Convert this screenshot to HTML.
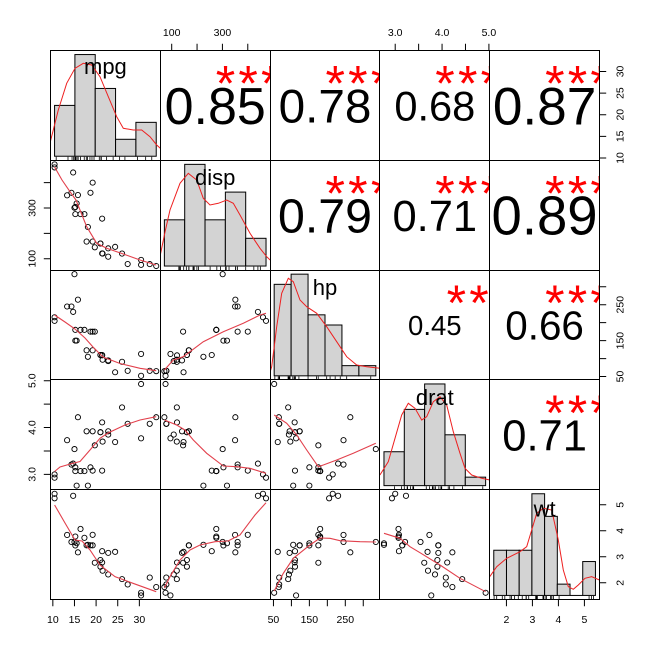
<!DOCTYPE html>
<html><head><meta charset="utf-8"><style>
html,body{margin:0;padding:0;background:#fff;}
svg{display:block;font-family:"Liberation Sans",Arial,sans-serif;}
.pt circle{fill:none;stroke:#000;stroke-width:0.9;}
.lo{fill:none;stroke:#E2404C;stroke-width:1.1;}
.dn{fill:none;stroke:#EE2020;stroke-width:1;}
.bar{fill:#D3D3D3;stroke:#000;stroke-width:1;}
.rug{stroke:#000;stroke-width:0.8;fill:none;}
.tk{stroke:#000;stroke-width:1;fill:none;}
.ax{font-size:10.5px;fill:#000;}
.st{font-size:50px;fill:#FF0000;letter-spacing:3.2px;}
.lb{font-size:22px;fill:#000;}
</style></head><body>
<svg width="650" height="650" viewBox="0 0 650 650" xmlns="http://www.w3.org/2000/svg">
<defs>
<clipPath id="c11"><rect x="50.5" y="50.5" width="109.8" height="109.8"/></clipPath>
<clipPath id="c22"><rect x="160.3" y="160.3" width="109.8" height="109.8"/></clipPath>
<clipPath id="c33"><rect x="270.1" y="270.1" width="109.8" height="109.8"/></clipPath>
<clipPath id="c44"><rect x="379.9" y="379.9" width="109.8" height="109.8"/></clipPath>
<clipPath id="c55"><rect x="489.7" y="489.7" width="109.8" height="109.8"/></clipPath>
<clipPath id="c12"><rect x="160.3" y="50.5" width="109.8" height="109.8"/></clipPath>
<clipPath id="c13"><rect x="270.1" y="50.5" width="109.8" height="109.8"/></clipPath>
<clipPath id="c14"><rect x="379.9" y="50.5" width="109.8" height="109.8"/></clipPath>
<clipPath id="c15"><rect x="489.7" y="50.5" width="109.8" height="109.8"/></clipPath>
<clipPath id="c23"><rect x="270.1" y="160.3" width="109.8" height="109.8"/></clipPath>
<clipPath id="c24"><rect x="379.9" y="160.3" width="109.8" height="109.8"/></clipPath>
<clipPath id="c25"><rect x="489.7" y="160.3" width="109.8" height="109.8"/></clipPath>
<clipPath id="c34"><rect x="379.9" y="270.1" width="109.8" height="109.8"/></clipPath>
<clipPath id="c35"><rect x="489.7" y="270.1" width="109.8" height="109.8"/></clipPath>
<clipPath id="c45"><rect x="489.7" y="379.9" width="109.8" height="109.8"/></clipPath>
</defs>
<rect x="0" y="0" width="650" height="650" fill="#fff"/>

<!-- Histograms -->
<g class="bar">
<rect x="54.57" y="105.40" width="20.33" height="50.83"/>
<rect x="74.90" y="54.56" width="20.33" height="101.67"/>
<rect x="95.23" y="88.45" width="20.33" height="67.78"/>
<rect x="115.57" y="139.29" width="20.33" height="16.94"/>
<rect x="135.90" y="122.34" width="20.33" height="33.89"/>

<rect x="164.37" y="219.82" width="20.33" height="46.21"/>
<rect x="184.70" y="164.36" width="20.33" height="101.67"/>
<rect x="205.03" y="219.82" width="20.33" height="46.21"/>
<rect x="225.37" y="192.09" width="20.33" height="73.94"/>
<rect x="245.70" y="238.30" width="20.33" height="27.73"/>

<rect x="274.17" y="284.33" width="16.94" height="91.50"/>
<rect x="291.11" y="274.16" width="16.94" height="101.67"/>
<rect x="308.06" y="314.83" width="16.94" height="61.00"/>
<rect x="325.00" y="325.00" width="16.94" height="50.83"/>
<rect x="341.94" y="365.66" width="16.94" height="10.17"/>
<rect x="358.89" y="365.66" width="16.94" height="10.17"/>

<rect x="383.97" y="451.74" width="20.33" height="33.89"/>
<rect x="404.30" y="409.38" width="20.33" height="76.25"/>
<rect x="424.63" y="383.96" width="20.33" height="101.67"/>
<rect x="444.97" y="434.80" width="20.33" height="50.83"/>
<rect x="465.30" y="477.16" width="20.33" height="8.47"/>

<rect x="493.77" y="550.24" width="12.71" height="45.19"/>
<rect x="506.48" y="550.24" width="12.71" height="45.19"/>
<rect x="519.19" y="550.24" width="12.71" height="45.19"/>
<rect x="531.90" y="493.76" width="12.71" height="101.67"/>
<rect x="544.61" y="516.35" width="12.71" height="79.08"/>
<rect x="557.31" y="584.13" width="12.71" height="11.30"/>
<rect x="582.73" y="561.54" width="12.71" height="33.89"/>
</g>
<line x1="570.02" y1="595.43" x2="582.73" y2="595.43" stroke="#000" stroke-width="1"/>

<!-- Density curves -->
<path class="dn" clip-path="url(#c11)" d="M50.5,141 L58.3,110 L66.7,83.3 L75,68.3 L83.3,63.3 L91.7,65 L100,76.7 L108.3,96.7 L116.7,116.7 L123.3,128.3 L133.3,130 L141.7,130 L150,136.7 L156.7,145 L160.3,148.3"/>
<path class="dn" clip-path="url(#c22)" d="M160.3,255 L165,232 L170,210 L180,183.3 L188.3,173.3 L196.7,180 L203.3,198.3 L210,205 L218.3,203.3 L226.7,200 L233.3,203.3 L240,215 L250,233.3 L260,248.3 L266.7,256.7 L270.1,260"/>
<path class="dn" clip-path="url(#c33)" d="M270.1,372 L271.7,366.7 L276.7,326.7 L281.7,293.3 L288.3,278.3 L293.3,281.7 L300,300 L306.7,306.7 L316.7,313.3 L326.7,326.7 L336.7,341.7 L346.7,356.7 L356.7,365 L366.7,366.7 L379.9,368.3"/>
<path class="dn" clip-path="url(#c44)" d="M379.9,475 L388.3,461.7 L395,438.3 L401.7,415 L408.3,403.3 L415,408.3 L421.7,420 L426.7,416.7 L433.3,401.7 L440,396.7 L446.7,405 L453.3,431.7 L460,453.3 L465,468.3 L471.7,475 L481.7,478.3 L489.7,480"/>
<path class="dn" clip-path="url(#c55)" d="M489.7,576.7 L496.7,566.7 L506.7,558.3 L520,551.7 L526.7,546.7 L531.7,530 L536.7,513.3 L543.3,508.3 L551.7,510 L558.3,540 L563.3,570 L568.3,586.7 L573.3,589.3 L578.3,585 L585,578.3 L591.7,576.7 L599.5,580"/>

<!-- Rugs -->
<path class="rug" d="M56.19,160.3v-3.5M67.99,160.3v-3.5M72.05,160.3v-3.5M73.68,160.3v-3.5M74.90,160.3v-3.5M75.71,160.3v-3.5M76.93,160.3v-3.5M78.15,160.3v-3.5M80.59,160.3v-3.5M84.25,160.3v-3.5M86.29,160.3v-3.5M87.51,160.3v-3.5M89.95,160.3v-3.5M91.98,160.3v-3.5M94.01,160.3v-3.5M99.30,160.3v-3.5M100.93,160.3v-3.5M101.33,160.3v-3.5M106.62,160.3v-3.5M113.13,160.3v-3.5M119.63,160.3v-3.5M124.92,160.3v-3.5M137.53,160.3v-3.5M145.66,160.3v-3.5M151.76,160.3v-3.5"/>
<path class="rug" d="M178.82,270.1v-3.5M179.76,270.1v-3.5M180.37,270.1v-3.5M180.43,270.1v-3.5M183.70,270.1v-3.5M186.33,270.1v-3.5M188.79,270.1v-3.5M188.97,270.1v-3.5M193.00,270.1v-3.5M193.85,270.1v-3.5M194.20,270.1v-3.5M196.90,270.1v-3.5M198.44,270.1v-3.5M210.12,270.1v-3.5M216.83,270.1v-3.5M220.45,270.1v-3.5M225.57,270.1v-3.5M226.18,270.1v-3.5M229.03,270.1v-3.5M235.53,270.1v-3.5M235.74,270.1v-3.5M237.57,270.1v-3.5M245.70,270.1v-3.5M253.83,270.1v-3.5M257.90,270.1v-3.5M260.34,270.1v-3.5"/>
<path class="rug" d="M274.84,379.9v-3.5M278.23,379.9v-3.5M279.25,379.9v-3.5M279.59,379.9v-3.5M288.06,379.9v-3.5M288.74,379.9v-3.5M289.42,379.9v-3.5M290.09,379.9v-3.5M292.81,379.9v-3.5M294.16,379.9v-3.5M294.50,379.9v-3.5M295.52,379.9v-3.5M298.91,379.9v-3.5M308.06,379.9v-3.5M316.53,379.9v-3.5M318.22,379.9v-3.5M326.69,379.9v-3.5M330.08,379.9v-3.5M335.17,379.9v-3.5M340.25,379.9v-3.5M346.69,379.9v-3.5M370.75,379.9v-3.5"/>
<path class="rug" d="M394.54,489.7v-3.5M401.45,489.7v-3.5M404.30,489.7v-3.5M407.15,489.7v-3.5M407.55,489.7v-3.5M410.40,489.7v-3.5M412.84,489.7v-3.5M413.65,489.7v-3.5M426.26,489.7v-3.5M429.51,489.7v-3.5M432.36,489.7v-3.5M432.77,489.7v-3.5M433.99,489.7v-3.5M435.61,489.7v-3.5M438.87,489.7v-3.5M440.90,489.7v-3.5M441.71,489.7v-3.5M448.22,489.7v-3.5M449.44,489.7v-3.5M453.91,489.7v-3.5M462.45,489.7v-3.5M482.79,489.7v-3.5"/>
<path class="rug" d="M494.10,599.5v-3.5M496.69,599.5v-3.5M502.28,599.5v-3.5M504.82,599.5v-3.5M510.03,599.5v-3.5M511.56,599.5v-3.5M514.61,599.5v-3.5M518.29,599.5v-3.5M522.23,599.5v-3.5M526.05,599.5v-3.5M526.30,599.5v-3.5M528.72,599.5v-3.5M535.70,599.5v-3.5M536.21,599.5v-3.5M536.72,599.5v-3.5M537.36,599.5v-3.5M542.95,599.5v-3.5M543.08,599.5v-3.5M543.58,599.5v-3.5M545.11,599.5v-3.5M546.38,599.5v-3.5M550.45,599.5v-3.5M551.72,599.5v-3.5M553.24,599.5v-3.5M553.37,599.5v-3.5M559.09,599.5v-3.5M589.08,599.5v-3.5M591.50,599.5v-3.5M593.50,599.5v-3.5"/>

<!-- Diagonal labels -->
<text class="lb" x="105.4" y="74" text-anchor="middle">mpg</text>
<text class="lb" x="215.2" y="185" text-anchor="middle">disp</text>
<text class="lb" x="325.0" y="295" text-anchor="middle">hp</text>
<text class="lb" x="434.8" y="405" text-anchor="middle">drat</text>
<text class="lb" x="544.6" y="516.5" text-anchor="middle">wt</text>

<!-- Upper panels: correlations -->
<text x="215.2" y="124.0" font-size="52.0" text-anchor="middle">0.85</text>
<text x="325.0" y="122.5" font-size="47.7" text-anchor="middle">0.78</text>
<text x="434.8" y="120.3" font-size="41.6" text-anchor="middle">0.68</text>
<text x="544.6" y="124.4" font-size="53.2" text-anchor="middle">0.87</text>
<text x="325.0" y="232.5" font-size="48.3" text-anchor="middle">0.79</text>
<text x="434.8" y="230.8" font-size="43.5" text-anchor="middle">0.71</text>
<text x="544.6" y="234.7" font-size="54.5" text-anchor="middle">0.89</text>
<text x="434.8" y="334.8" font-size="27.5" text-anchor="middle">0.45</text>
<text x="544.6" y="339.5" font-size="40.4" text-anchor="middle">0.66</text>
<text x="544.6" y="450.4" font-size="43.5" text-anchor="middle">0.71</text>

<text class="st" clip-path="url(#c12)" x="249.7" y="100.5" text-anchor="middle">***</text>
<text class="st" clip-path="url(#c13)" x="359.5" y="100.5" text-anchor="middle">***</text>
<text class="st" clip-path="url(#c14)" x="469.3" y="100.5" text-anchor="middle">***</text>
<text class="st" clip-path="url(#c15)" x="579.1" y="100.5" text-anchor="middle">***</text>
<text class="st" clip-path="url(#c23)" x="359.5" y="210.3" text-anchor="middle">***</text>
<text class="st" clip-path="url(#c24)" x="469.3" y="210.3" text-anchor="middle">***</text>
<text class="st" clip-path="url(#c25)" x="579.1" y="210.3" text-anchor="middle">***</text>
<text class="st" clip-path="url(#c34)" x="469.3" y="320.1" text-anchor="middle">**</text>
<text class="st" clip-path="url(#c35)" x="579.1" y="320.1" text-anchor="middle">***</text>
<text class="st" clip-path="url(#c45)" x="579.1" y="429.9" text-anchor="middle">***</text>

<!-- Lower panels: points -->
<g class="pt" transform="translate(50.5,160.3)">
<circle cx="49.92" cy="83.19" r="2.6"/><circle cx="49.92" cy="83.19" r="2.6"/><circle cx="57.71" cy="96.38" r="2.6"/><circle cx="51.65" cy="58.34" r="2.6"/><circle cx="39.97" cy="32.47" r="2.6"/><circle cx="37.38" cy="66.70" r="2.6"/><circle cx="20.94" cy="32.47" r="2.6"/><circle cx="64.63" cy="86.56" r="2.6"/><circle cx="57.71" cy="88.06" r="2.6"/><circle cx="42.14" cy="81.26" r="2.6"/><circle cx="36.08" cy="81.26" r="2.6"/><circle cx="30.02" cy="53.82" r="2.6"/><circle cx="33.92" cy="53.82" r="2.6"/><circle cx="24.83" cy="53.82" r="2.6"/><circle cx="4.07" cy="4.07" r="2.6"/><circle cx="4.07" cy="7.11" r="2.6"/><circle cx="22.67" cy="12.18" r="2.6"/><circle cx="99.24" cy="103.81" r="2.6"/><circle cx="90.59" cy="104.57" r="2.6"/><circle cx="105.73" cy="105.73" r="2.6"/><circle cx="52.09" cy="93.31" r="2.6"/><circle cx="26.13" cy="43.12" r="2.6"/><circle cx="24.83" cy="46.67" r="2.6"/><circle cx="16.61" cy="35.00" r="2.6"/><circle cx="42.14" cy="22.32" r="2.6"/><circle cx="77.18" cy="103.73" r="2.6"/><circle cx="71.56" cy="93.26" r="2.6"/><circle cx="90.59" cy="99.65" r="2.6"/><circle cx="27.43" cy="34.75" r="2.6"/><circle cx="44.30" cy="86.99" r="2.6"/><circle cx="23.97" cy="47.43" r="2.6"/><circle cx="51.65" cy="93.08" r="2.6"/>
</g>
<g class="pt" transform="translate(50.5,270.1)">
<circle cx="49.92" cy="84.90" r="2.6"/><circle cx="49.92" cy="84.90" r="2.6"/><circle cx="57.71" cy="91.00" r="2.6"/><circle cx="51.65" cy="84.90" r="2.6"/><circle cx="39.97" cy="61.55" r="2.6"/><circle cx="37.38" cy="86.69" r="2.6"/><circle cx="20.94" cy="36.40" r="2.6"/><circle cx="64.63" cy="102.14" r="2.6"/><circle cx="57.71" cy="90.29" r="2.6"/><circle cx="42.14" cy="80.23" r="2.6"/><circle cx="36.08" cy="80.23" r="2.6"/><circle cx="30.02" cy="59.75" r="2.6"/><circle cx="33.92" cy="59.75" r="2.6"/><circle cx="24.83" cy="59.75" r="2.6"/><circle cx="4.07" cy="50.77" r="2.6"/><circle cx="4.07" cy="47.18" r="2.6"/><circle cx="22.67" cy="41.79" r="2.6"/><circle cx="99.24" cy="100.70" r="2.6"/><circle cx="90.59" cy="105.73" r="2.6"/><circle cx="105.73" cy="101.06" r="2.6"/><circle cx="52.09" cy="89.57" r="2.6"/><circle cx="26.13" cy="70.53" r="2.6"/><circle cx="24.83" cy="70.53" r="2.6"/><circle cx="16.61" cy="36.40" r="2.6"/><circle cx="42.14" cy="61.55" r="2.6"/><circle cx="77.18" cy="100.70" r="2.6"/><circle cx="71.56" cy="91.72" r="2.6"/><circle cx="90.59" cy="83.82" r="2.6"/><circle cx="27.43" cy="29.57" r="2.6"/><circle cx="44.30" cy="61.55" r="2.6"/><circle cx="23.97" cy="4.07" r="2.6"/><circle cx="51.65" cy="85.26" r="2.6"/>
</g>
<g class="pt" transform="translate(160.3,270.1)">
<circle cx="26.61" cy="84.90" r="2.6"/><circle cx="26.61" cy="84.90" r="2.6"/><circle cx="13.42" cy="91.00" r="2.6"/><circle cx="51.46" cy="84.90" r="2.6"/><circle cx="77.33" cy="61.55" r="2.6"/><circle cx="43.10" cy="86.69" r="2.6"/><circle cx="77.33" cy="36.40" r="2.6"/><circle cx="23.24" cy="102.14" r="2.6"/><circle cx="21.74" cy="90.29" r="2.6"/><circle cx="28.54" cy="80.23" r="2.6"/><circle cx="28.54" cy="80.23" r="2.6"/><circle cx="55.98" cy="59.75" r="2.6"/><circle cx="55.98" cy="59.75" r="2.6"/><circle cx="55.98" cy="59.75" r="2.6"/><circle cx="105.73" cy="50.77" r="2.6"/><circle cx="102.69" cy="47.18" r="2.6"/><circle cx="97.62" cy="41.79" r="2.6"/><circle cx="5.99" cy="100.70" r="2.6"/><circle cx="5.23" cy="105.73" r="2.6"/><circle cx="4.07" cy="101.06" r="2.6"/><circle cx="16.49" cy="89.57" r="2.6"/><circle cx="66.68" cy="70.53" r="2.6"/><circle cx="63.13" cy="70.53" r="2.6"/><circle cx="74.80" cy="36.40" r="2.6"/><circle cx="87.48" cy="61.55" r="2.6"/><circle cx="6.07" cy="100.70" r="2.6"/><circle cx="16.54" cy="91.72" r="2.6"/><circle cx="10.15" cy="83.82" r="2.6"/><circle cx="75.05" cy="29.57" r="2.6"/><circle cx="22.81" cy="61.55" r="2.6"/><circle cx="62.37" cy="4.07" r="2.6"/><circle cx="16.72" cy="85.26" r="2.6"/>
</g>
<g class="pt" transform="translate(50.5,379.9)">
<circle cx="49.92" cy="52.32" r="2.6"/><circle cx="49.92" cy="52.32" r="2.6"/><circle cx="57.71" cy="54.67" r="2.6"/><circle cx="51.65" cy="90.74" r="2.6"/><circle cx="39.97" cy="87.46" r="2.6"/><circle cx="37.38" cy="105.73" r="2.6"/><circle cx="20.94" cy="84.65" r="2.6"/><circle cx="64.63" cy="62.16" r="2.6"/><circle cx="57.71" cy="51.39" r="2.6"/><circle cx="42.14" cy="51.39" r="2.6"/><circle cx="36.08" cy="51.39" r="2.6"/><circle cx="30.02" cy="91.21" r="2.6"/><circle cx="33.92" cy="91.21" r="2.6"/><circle cx="24.83" cy="91.21" r="2.6"/><circle cx="4.07" cy="97.77" r="2.6"/><circle cx="4.07" cy="94.49" r="2.6"/><circle cx="22.67" cy="83.71" r="2.6"/><circle cx="99.24" cy="43.89" r="2.6"/><circle cx="90.59" cy="4.07" r="2.6"/><circle cx="105.73" cy="37.33" r="2.6"/><circle cx="52.09" cy="61.69" r="2.6"/><circle cx="26.13" cy="105.73" r="2.6"/><circle cx="24.83" cy="87.46" r="2.6"/><circle cx="16.61" cy="60.29" r="2.6"/><circle cx="42.14" cy="90.74" r="2.6"/><circle cx="77.18" cy="43.89" r="2.6"/><circle cx="71.56" cy="27.49" r="2.6"/><circle cx="90.59" cy="58.41" r="2.6"/><circle cx="27.43" cy="37.33" r="2.6"/><circle cx="44.30" cy="65.44" r="2.6"/><circle cx="23.97" cy="69.19" r="2.6"/><circle cx="51.65" cy="42.48" r="2.6"/>
</g>
<g class="pt" transform="translate(160.3,379.9)">
<circle cx="26.61" cy="52.32" r="2.6"/><circle cx="26.61" cy="52.32" r="2.6"/><circle cx="13.42" cy="54.67" r="2.6"/><circle cx="51.46" cy="90.74" r="2.6"/><circle cx="77.33" cy="87.46" r="2.6"/><circle cx="43.10" cy="105.73" r="2.6"/><circle cx="77.33" cy="84.65" r="2.6"/><circle cx="23.24" cy="62.16" r="2.6"/><circle cx="21.74" cy="51.39" r="2.6"/><circle cx="28.54" cy="51.39" r="2.6"/><circle cx="28.54" cy="51.39" r="2.6"/><circle cx="55.98" cy="91.21" r="2.6"/><circle cx="55.98" cy="91.21" r="2.6"/><circle cx="55.98" cy="91.21" r="2.6"/><circle cx="105.73" cy="97.77" r="2.6"/><circle cx="102.69" cy="94.49" r="2.6"/><circle cx="97.62" cy="83.71" r="2.6"/><circle cx="5.99" cy="43.89" r="2.6"/><circle cx="5.23" cy="4.07" r="2.6"/><circle cx="4.07" cy="37.33" r="2.6"/><circle cx="16.49" cy="61.69" r="2.6"/><circle cx="66.68" cy="105.73" r="2.6"/><circle cx="63.13" cy="87.46" r="2.6"/><circle cx="74.80" cy="60.29" r="2.6"/><circle cx="87.48" cy="90.74" r="2.6"/><circle cx="6.07" cy="43.89" r="2.6"/><circle cx="16.54" cy="27.49" r="2.6"/><circle cx="10.15" cy="58.41" r="2.6"/><circle cx="75.05" cy="37.33" r="2.6"/><circle cx="22.81" cy="65.44" r="2.6"/><circle cx="62.37" cy="69.19" r="2.6"/><circle cx="16.72" cy="42.48" r="2.6"/>
</g>
<g class="pt" transform="translate(270.1,379.9)">
<circle cx="24.90" cy="52.32" r="2.6"/><circle cx="24.90" cy="52.32" r="2.6"/><circle cx="18.80" cy="54.67" r="2.6"/><circle cx="24.90" cy="90.74" r="2.6"/><circle cx="48.25" cy="87.46" r="2.6"/><circle cx="23.11" cy="105.73" r="2.6"/><circle cx="73.40" cy="84.65" r="2.6"/><circle cx="7.66" cy="62.16" r="2.6"/><circle cx="19.51" cy="51.39" r="2.6"/><circle cx="29.57" cy="51.39" r="2.6"/><circle cx="29.57" cy="51.39" r="2.6"/><circle cx="50.05" cy="91.21" r="2.6"/><circle cx="50.05" cy="91.21" r="2.6"/><circle cx="50.05" cy="91.21" r="2.6"/><circle cx="59.03" cy="97.77" r="2.6"/><circle cx="62.62" cy="94.49" r="2.6"/><circle cx="68.01" cy="83.71" r="2.6"/><circle cx="9.10" cy="43.89" r="2.6"/><circle cx="4.07" cy="4.07" r="2.6"/><circle cx="8.74" cy="37.33" r="2.6"/><circle cx="20.23" cy="61.69" r="2.6"/><circle cx="39.27" cy="105.73" r="2.6"/><circle cx="39.27" cy="87.46" r="2.6"/><circle cx="73.40" cy="60.29" r="2.6"/><circle cx="48.25" cy="90.74" r="2.6"/><circle cx="9.10" cy="43.89" r="2.6"/><circle cx="18.08" cy="27.49" r="2.6"/><circle cx="25.98" cy="58.41" r="2.6"/><circle cx="80.23" cy="37.33" r="2.6"/><circle cx="48.25" cy="65.44" r="2.6"/><circle cx="105.73" cy="69.19" r="2.6"/><circle cx="24.54" cy="42.48" r="2.6"/>
</g>
<g class="pt" transform="translate(50.5,489.7)">
<circle cx="49.92" cy="76.96" r="2.6"/><circle cx="49.92" cy="70.33" r="2.6"/><circle cx="57.71" cy="84.76" r="2.6"/><circle cx="51.65" cy="61.49" r="2.6"/><circle cx="39.97" cy="55.64" r="2.6"/><circle cx="37.38" cy="55.12" r="2.6"/><circle cx="20.94" cy="52.26" r="2.6"/><circle cx="64.63" cy="62.14" r="2.6"/><circle cx="57.71" cy="63.18" r="2.6"/><circle cx="42.14" cy="55.64" r="2.6"/><circle cx="36.08" cy="55.64" r="2.6"/><circle cx="30.02" cy="39.26" r="2.6"/><circle cx="33.92" cy="48.10" r="2.6"/><circle cx="24.83" cy="46.80" r="2.6"/><circle cx="4.07" cy="8.59" r="2.6"/><circle cx="4.07" cy="4.07" r="2.6"/><circle cx="22.67" cy="6.12" r="2.6"/><circle cx="99.24" cy="87.87" r="2.6"/><circle cx="90.59" cy="103.08" r="2.6"/><circle cx="105.73" cy="97.36" r="2.6"/><circle cx="52.09" cy="80.99" r="2.6"/><circle cx="26.13" cy="53.56" r="2.6"/><circle cx="24.83" cy="55.77" r="2.6"/><circle cx="16.61" cy="45.24" r="2.6"/><circle cx="42.14" cy="45.11" r="2.6"/><circle cx="77.18" cy="94.76" r="2.6"/><circle cx="71.56" cy="89.43" r="2.6"/><circle cx="90.59" cy="105.73" r="2.6"/><circle cx="27.43" cy="62.66" r="2.6"/><circle cx="44.30" cy="73.06" r="2.6"/><circle cx="23.97" cy="52.26" r="2.6"/><circle cx="51.65" cy="72.80" r="2.6"/>
</g>
<g class="pt" transform="translate(160.3,489.7)">
<circle cx="26.61" cy="76.96" r="2.6"/><circle cx="26.61" cy="70.33" r="2.6"/><circle cx="13.42" cy="84.76" r="2.6"/><circle cx="51.46" cy="61.49" r="2.6"/><circle cx="77.33" cy="55.64" r="2.6"/><circle cx="43.10" cy="55.12" r="2.6"/><circle cx="77.33" cy="52.26" r="2.6"/><circle cx="23.24" cy="62.14" r="2.6"/><circle cx="21.74" cy="63.18" r="2.6"/><circle cx="28.54" cy="55.64" r="2.6"/><circle cx="28.54" cy="55.64" r="2.6"/><circle cx="55.98" cy="39.26" r="2.6"/><circle cx="55.98" cy="48.10" r="2.6"/><circle cx="55.98" cy="46.80" r="2.6"/><circle cx="105.73" cy="8.59" r="2.6"/><circle cx="102.69" cy="4.07" r="2.6"/><circle cx="97.62" cy="6.12" r="2.6"/><circle cx="5.99" cy="87.87" r="2.6"/><circle cx="5.23" cy="103.08" r="2.6"/><circle cx="4.07" cy="97.36" r="2.6"/><circle cx="16.49" cy="80.99" r="2.6"/><circle cx="66.68" cy="53.56" r="2.6"/><circle cx="63.13" cy="55.77" r="2.6"/><circle cx="74.80" cy="45.24" r="2.6"/><circle cx="87.48" cy="45.11" r="2.6"/><circle cx="6.07" cy="94.76" r="2.6"/><circle cx="16.54" cy="89.43" r="2.6"/><circle cx="10.15" cy="105.73" r="2.6"/><circle cx="75.05" cy="62.66" r="2.6"/><circle cx="22.81" cy="73.06" r="2.6"/><circle cx="62.37" cy="52.26" r="2.6"/><circle cx="16.72" cy="72.80" r="2.6"/>
</g>
<g class="pt" transform="translate(270.1,489.7)">
<circle cx="24.90" cy="76.96" r="2.6"/><circle cx="24.90" cy="70.33" r="2.6"/><circle cx="18.80" cy="84.76" r="2.6"/><circle cx="24.90" cy="61.49" r="2.6"/><circle cx="48.25" cy="55.64" r="2.6"/><circle cx="23.11" cy="55.12" r="2.6"/><circle cx="73.40" cy="52.26" r="2.6"/><circle cx="7.66" cy="62.14" r="2.6"/><circle cx="19.51" cy="63.18" r="2.6"/><circle cx="29.57" cy="55.64" r="2.6"/><circle cx="29.57" cy="55.64" r="2.6"/><circle cx="50.05" cy="39.26" r="2.6"/><circle cx="50.05" cy="48.10" r="2.6"/><circle cx="50.05" cy="46.80" r="2.6"/><circle cx="59.03" cy="8.59" r="2.6"/><circle cx="62.62" cy="4.07" r="2.6"/><circle cx="68.01" cy="6.12" r="2.6"/><circle cx="9.10" cy="87.87" r="2.6"/><circle cx="4.07" cy="103.08" r="2.6"/><circle cx="8.74" cy="97.36" r="2.6"/><circle cx="20.23" cy="80.99" r="2.6"/><circle cx="39.27" cy="53.56" r="2.6"/><circle cx="39.27" cy="55.77" r="2.6"/><circle cx="73.40" cy="45.24" r="2.6"/><circle cx="48.25" cy="45.11" r="2.6"/><circle cx="9.10" cy="94.76" r="2.6"/><circle cx="18.08" cy="89.43" r="2.6"/><circle cx="25.98" cy="105.73" r="2.6"/><circle cx="80.23" cy="62.66" r="2.6"/><circle cx="48.25" cy="73.06" r="2.6"/><circle cx="105.73" cy="52.26" r="2.6"/><circle cx="24.54" cy="72.80" r="2.6"/>
</g>
<g class="pt" transform="translate(379.9,489.7)">
<circle cx="57.48" cy="76.96" r="2.6"/><circle cx="57.48" cy="70.33" r="2.6"/><circle cx="55.13" cy="84.76" r="2.6"/><circle cx="19.06" cy="61.49" r="2.6"/><circle cx="22.34" cy="55.64" r="2.6"/><circle cx="4.07" cy="55.12" r="2.6"/><circle cx="25.15" cy="52.26" r="2.6"/><circle cx="47.64" cy="62.14" r="2.6"/><circle cx="58.41" cy="63.18" r="2.6"/><circle cx="58.41" cy="55.64" r="2.6"/><circle cx="58.41" cy="55.64" r="2.6"/><circle cx="18.59" cy="39.26" r="2.6"/><circle cx="18.59" cy="48.10" r="2.6"/><circle cx="18.59" cy="46.80" r="2.6"/><circle cx="12.03" cy="8.59" r="2.6"/><circle cx="15.31" cy="4.07" r="2.6"/><circle cx="26.09" cy="6.12" r="2.6"/><circle cx="65.91" cy="87.87" r="2.6"/><circle cx="105.73" cy="103.08" r="2.6"/><circle cx="72.47" cy="97.36" r="2.6"/><circle cx="48.11" cy="80.99" r="2.6"/><circle cx="4.07" cy="53.56" r="2.6"/><circle cx="22.34" cy="55.77" r="2.6"/><circle cx="49.51" cy="45.24" r="2.6"/><circle cx="19.06" cy="45.11" r="2.6"/><circle cx="65.91" cy="94.76" r="2.6"/><circle cx="82.31" cy="89.43" r="2.6"/><circle cx="51.39" cy="105.73" r="2.6"/><circle cx="72.47" cy="62.66" r="2.6"/><circle cx="44.36" cy="73.06" r="2.6"/><circle cx="40.61" cy="52.26" r="2.6"/><circle cx="67.32" cy="72.80" r="2.6"/>
</g>

<!-- Lowess smooths -->
<path class="lo" d="M54.6,167 L62,180 L70,191.7 L76,200 L86.7,226.7 L96.7,243.3 L106.7,248.3 L123.3,254 L140,260 L156.2,265"/>
<path class="lo" d="M54.6,315 L65,322 L75,329 L85,338 L93,347 L103,357 L120,363.5 L140,368.3 L156.2,370.7"/>
<path class="lo" d="M54.6,471.5 L60,467 L72,463.5 L80,461.5 L90,450 L100,438.3 L108,433 L125,425 L140,420 L156.2,416.7"/>
<path class="lo" d="M54.6,505 L65,523 L75,540 L82,541 L90,550 L100,565 L115,576.7 L133,583.3 L156.2,591.7"/>
<path class="lo" d="M164.4,370 L173.3,360 L183.3,356.7 L190,351.7 L203.3,341.7 L223.3,331.7 L243.3,323.3 L260,315 L266,313.3"/>
<path class="lo" d="M164.4,420 L176.7,425 L185,430 L193.3,440 L206.7,453.3 L223.3,466 L236.7,466.7 L250,468.3 L266,473.3"/>
<path class="lo" d="M164.4,588 L170,576.7 L180,560 L190,550 L200,545 L215,541.7 L228,541 L240,535 L255,515 L266,502.7"/>
<path class="lo" d="M274.2,415 L286.7,423.3 L296.7,435 L306.7,450 L318.3,466.7 L323.3,465 L336.7,460 L353.3,453.3 L375.8,443.3"/>
<path class="lo" d="M274.2,591 L283.3,573.3 L293.3,558.3 L310,545 L320,538 L330,538.3 L340,540.7 L360,541.7 L375.8,542"/>
<path class="lo" d="M384,533.3 L400,538.3 L410,546.7 L420,552.7 L440,565 L460,578.3 L485.6,591.7"/>

<!-- Panel borders -->
<g stroke="#000" stroke-width="1" fill="none">
<rect x="50.5" y="50.5" width="549" height="549"/>
<line x1="160.5" y1="50.5" x2="160.5" y2="599.5"/>
<line x1="270.5" y1="50.5" x2="270.5" y2="599.5"/>
<line x1="379.5" y1="50.5" x2="379.5" y2="599.5"/>
<line x1="489.5" y1="50.5" x2="489.5" y2="599.5"/>
<line x1="50.5" y1="160.5" x2="599.5" y2="160.5"/>
<line x1="50.5" y1="270.5" x2="599.5" y2="270.5"/>
<line x1="50.5" y1="379.5" x2="599.5" y2="379.5"/>
<line x1="50.5" y1="489.5" x2="599.5" y2="489.5"/>
</g>

<!-- Axis ticks -->
<path class="tk" d="M52.84,599.5v6.7M74.47,599.5v6.7M96.10,599.5v6.7M117.73,599.5v6.7M139.36,599.5v6.7
M273.45,599.5v6.7M291.41,599.5v6.7M309.37,599.5v6.7M327.34,599.5v6.7M345.30,599.5v6.7M363.26,599.5v6.7
M506.43,599.5v6.7M532.42,599.5v6.7M558.42,599.5v6.7M584.41,599.5v6.7
M171.70,50.5v-6.7M197.06,50.5v-6.7M222.42,50.5v-6.7M247.78,50.5v-6.7
M395.21,50.5v-6.7M418.63,50.5v-6.7M442.06,50.5v-6.7M465.48,50.5v-6.7M488.91,50.5v-6.7
M50.5,258.70h-6.7M50.5,233.34h-6.7M50.5,207.98h-6.7M50.5,182.62h-6.7
M50.5,474.39h-6.7M50.5,450.97h-6.7M50.5,427.54h-6.7M50.5,404.12h-6.7M50.5,380.69h-6.7
M599.5,157.96h6.7M599.5,136.33h6.7M599.5,114.70h6.7M599.5,93.07h6.7M599.5,71.44h6.7
M599.5,376.55h6.7M599.5,358.59h6.7M599.5,340.63h6.7M599.5,322.66h6.7M599.5,304.70h6.7M599.5,286.74h6.7
M599.5,582.77h6.7M599.5,556.78h6.7M599.5,530.78h6.7M599.5,504.79h6.7"/>

<!-- Axis labels -->
<g class="ax" text-anchor="middle">
<text x="52.84" y="622.8">10</text><text x="74.47" y="622.8">15</text><text x="96.10" y="622.8">20</text><text x="117.73" y="622.8">25</text><text x="139.36" y="622.8">30</text>
<text x="273.45" y="622.8">50</text><text x="309.37" y="622.8">150</text><text x="345.30" y="622.8">250</text>
<text x="506.43" y="622.8">2</text><text x="532.42" y="622.8">3</text><text x="558.42" y="622.8">4</text><text x="584.41" y="622.8">5</text>
<text x="171.70" y="36.1">100</text><text x="222.42" y="36.1">300</text>
<text x="395.21" y="36.1">3.0</text><text x="442.06" y="36.1">4.0</text><text x="488.91" y="36.1">5.0</text>
<text transform="translate(35.3,258.70) rotate(-90)">100</text>
<text transform="translate(35.3,207.98) rotate(-90)">300</text>
<text transform="translate(35.3,474.39) rotate(-90)">3.0</text>
<text transform="translate(35.3,427.54) rotate(-90)">4.0</text>
<text transform="translate(35.3,380.69) rotate(-90)">5.0</text>
<text transform="translate(623.5,157.96) rotate(-90)">10</text>
<text transform="translate(623.5,136.33) rotate(-90)">15</text>
<text transform="translate(623.5,114.70) rotate(-90)">20</text>
<text transform="translate(623.5,93.07) rotate(-90)">25</text>
<text transform="translate(623.5,71.44) rotate(-90)">30</text>
<text transform="translate(623.5,376.55) rotate(-90)">50</text>
<text transform="translate(623.5,340.63) rotate(-90)">150</text>
<text transform="translate(623.5,304.70) rotate(-90)">250</text>
<text transform="translate(623.5,582.77) rotate(-90)">2</text>
<text transform="translate(623.5,556.78) rotate(-90)">3</text>
<text transform="translate(623.5,530.78) rotate(-90)">4</text>
<text transform="translate(623.5,504.79) rotate(-90)">5</text>
</g>
</svg>
</body></html>
